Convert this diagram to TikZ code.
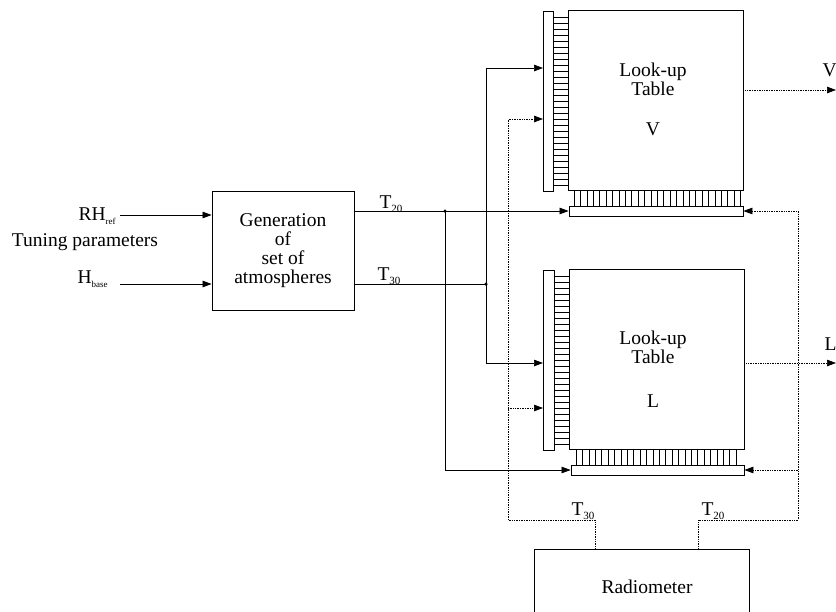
\documentclass[tikz,border=0pt]{standalone}
\usepackage{fontspec}
\setmainfont{Liberation Serif}
\usetikzlibrary{arrows.meta}
\newcommand{\sbs}[1]{\raisebox{-0.45ex}{\fontsize{11}{11}\selectfont #1}}
\newcommand{\tsbs}[1]{\raisebox{-0.45ex}{\fontsize{9}{9}\selectfont #1}}
\begin{document}
\begin{tikzpicture}[x=1pt,y=-1pt,
  line width=0.7pt,
  lbl/.style={inner sep=0pt, font=\fontsize{19.5}{19}\selectfont, align=center},
  box/.style={draw, line width=0.8pt, inner sep=0pt},
  hid/.style={inner sep=0pt},
  wire/.style={line width=0.7pt},
  dwire/.style={line width=0.7pt, densely dotted},
  arr/.style={-{Triangle[length=9pt,width=6.5pt]}},
  rung/.style={line width=0.6pt},
  jdot/.style={circle, fill, inner sep=0pt, minimum size=3.5pt}
]
\useasboundingbox (0,0) rectangle (836,611);

% main blocks
\node[box, minimum width=142pt, minimum height=119pt] (gen) at (283,250.5) {};
\node[box, minimum width=175pt, minimum height=180pt] (vbox) at (655.5,100) {};
\node[box, minimum width=10pt, minimum height=180pt] (vbar) at (548,101) {};
\node[box, minimum width=174pt, minimum height=10pt] (vbot) at (656,211) {};
\node[box, minimum width=175pt, minimum height=180pt] (lbox) at (656.5,359) {};
\node[box, minimum width=11pt, minimum height=180pt] (lbar) at (548.5,360) {};
\node[box, minimum width=173pt, minimum height=10pt] (lbot) at (657.5,470) {};
\node[hid, minimum width=214pt, minimum height=62pt] (rad) at (642,581) {};
\draw[line width=0.8pt] (rad.south west) -- (rad.north west) -- (rad.north east) -- (rad.south east);

% ladders
\foreach \yy in {17,23,...,185} \draw[rung] (553,\yy) -- (568,\yy);
\foreach \xx in {574,580.4,...,741} \draw[rung] (\xx,190) -- (\xx,206);
\foreach \yy in {276,282,...,444} \draw[rung] (554,\yy) -- (569,\yy);
\foreach \xx in {576,582.4,...,742} \draw[rung] (\xx,449) -- (\xx,465);

% texts
\node[lbl, anchor=base east] (rhl) at (116,220) {RH\tsbs{ref}};
\node[lbl, anchor=base] (tun) at (85,246) {Tuning parameters};
\node[lbl, anchor=base east] (hbl) at (108,283) {H\tsbs{base}};
\node[lbl] (gent) at (283,251) {Generation\\of\\set of\\atmospheres};
\node[lbl, anchor=base] (t20a) at (391,208) {T\sbs{20}};
\node[lbl, anchor=base] (t30a) at (389,280) {T\sbs{30}};
\node[lbl, anchor=base] (vl1) at (653,76) {Look-up};
\node[lbl, anchor=base] (vl2) at (653,95) {Table};
\node[lbl, anchor=base] (vl3) at (653,135) {V};
\node[lbl, anchor=base] (ll1) at (653,344) {Look-up};
\node[lbl, anchor=base] (ll2) at (653,363) {Table};
\node[lbl, anchor=base] (ll3) at (653,407) {L};
\node[lbl, anchor=base] (radt) at (647,593) {Radiometer};
\node[lbl, anchor=base] (t30b) at (583,515) {T\sbs{30}};
\node[lbl, anchor=base] (t20b) at (713,515) {T\sbs{20}};
\node[lbl, anchor=base east] (vout) at (837,76) {V};
\node[lbl, anchor=base east] (lout) at (837,350) {L};

% coordinates
\coordinate (rhs) at (120,215);
\coordinate (hbs) at (120,284);
\coordinate (j20) at (445,211);
\coordinate (j30) at (486,284);
\coordinate (vin1) at (543,68);
\coordinate (vin2) at (543,119);
\coordinate (lin1) at (543,363);
\coordinate (lin2) at (543,408);
\coordinate (r30) at (595,550);
\coordinate (r20) at (698,550);
\coordinate (c30a) at (595,520);
\coordinate (c30b) at (508,520);
\coordinate (c30c) at (508,119);
\coordinate (b30) at (508,408);
\coordinate (c20a) at (698,520);
\coordinate (c20b) at (798,520);
\coordinate (c20c) at (798,211);
\coordinate (b20) at (798,470);
\coordinate (vo) at (836,90);
\coordinate (lo) at (836,363);

% inputs
\draw[wire, arr] (rhs) -- (gen.west |- rhs);
\draw[wire, arr] (hbs) -- (gen.west |- hbs);

% T20 solid
\draw[wire] (gen.east |- j20) -- (j20);
\draw[wire, arr] (j20) -- (vbot.west);
\draw[wire, arr] (j20) |- (lbot.west);
% T30 solid
\draw[wire] (gen.east |- j30) -- (j30);
\draw[wire, arr] (j30) |- (vin1);
\draw[wire, arr] (j30) |- (lin1);
\node[jdot] at (j20) {};
\node[jdot] at (j30) {};

% radiometer dotted
\draw[dwire, arr] (r30) -- (c30a) -- (c30b) -- (c30c) -- (vin2);
\draw[dwire, arr] (b30) -- (lin2);
\draw[dwire, arr] (r20) -- (c20a) -- (c20b) -- (c20c) -- (vbot.east);
\draw[dwire, arr] (b20) -- (lbot.east);

% outputs
\draw[dwire, arr] (vbox.east |- vo) -- (vo);
\draw[dwire, arr] (lbox.east |- lo) -- (lo);
\end{tikzpicture}
\end{document}
